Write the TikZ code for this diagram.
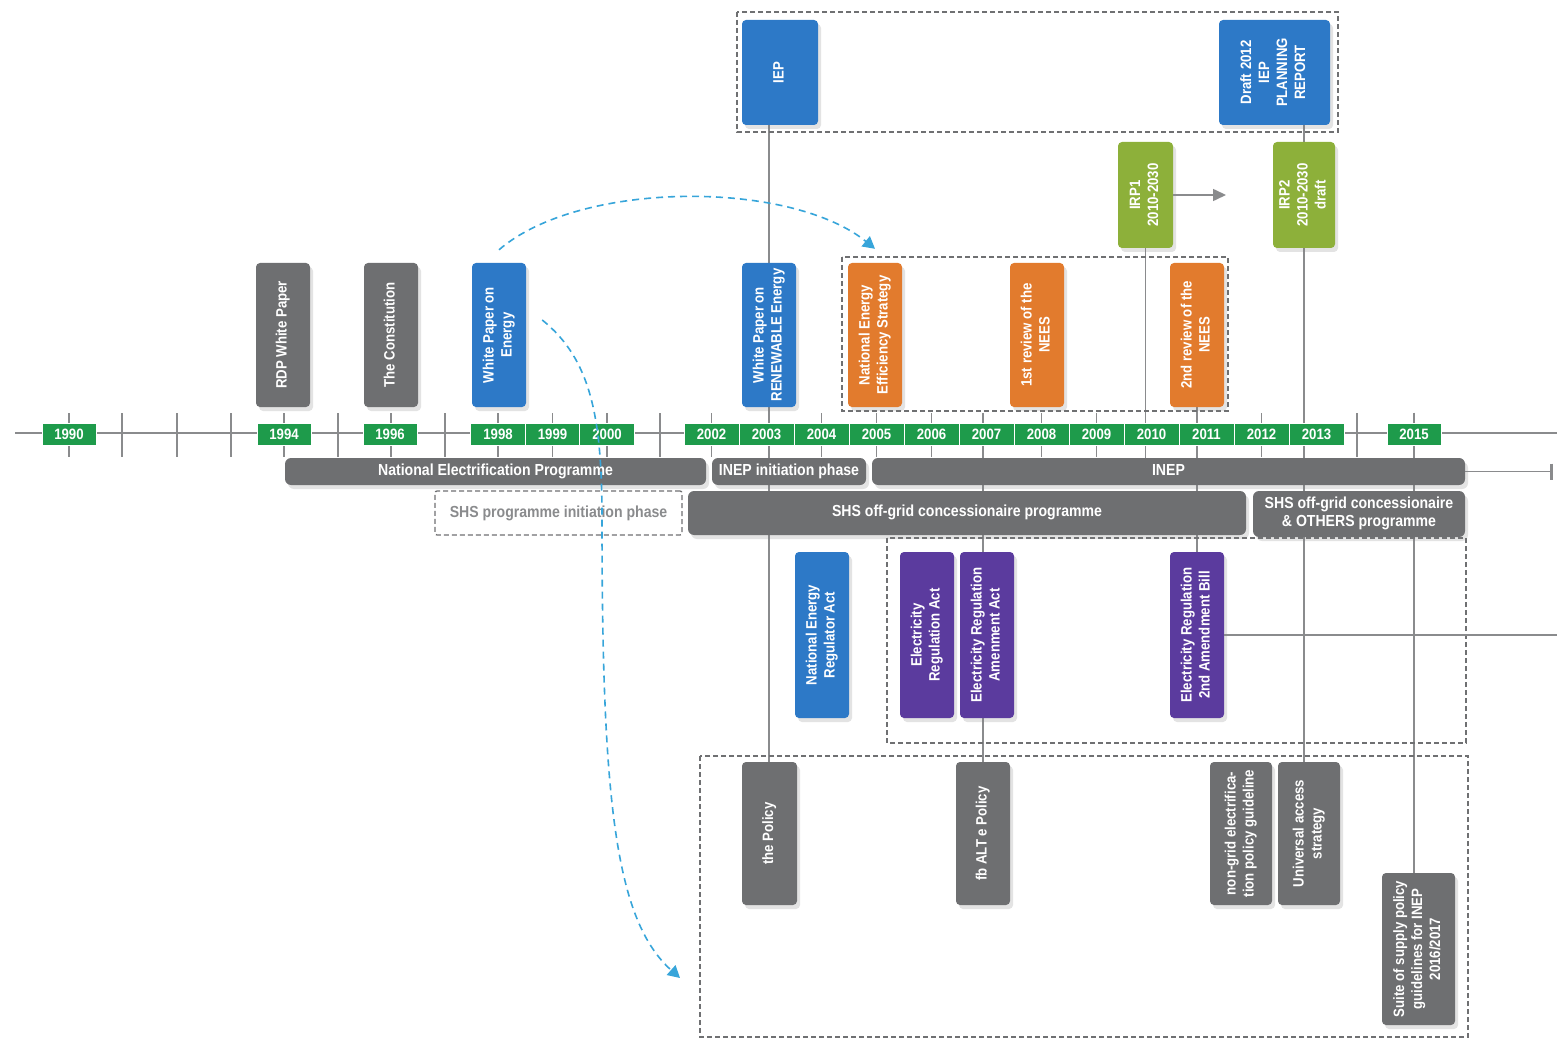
\documentclass[tikz,border=0pt]{standalone}
\usepackage{fontspec}
\setmainfont{Liberation Sans}[FakeStretch=0.88]
\usepackage{graphicx}
\usetikzlibrary{arrows.meta,shadows,backgrounds}
\definecolor{cgray}{HTML}{6E6F71}
\definecolor{cblue}{HTML}{2D79C7}
\definecolor{corange}{HTML}{E27B2D}
\definecolor{colive}{HTML}{8DB03A}
\definecolor{cpurple}{HTML}{5B3B9E}
\definecolor{cgreen}{HTML}{1E9B4B}
\definecolor{cline}{HTML}{8A8B8D}
\definecolor{cdash}{HTML}{37A5DA}
\definecolor{cframe}{HTML}{6F7072}
\newcommand\vt[1]{\rotatebox{90}{\begin{tabular}{@{}c@{}}#1\end{tabular}}}
\newcommand\mkbox[7]{\node[vb, fill=#2, minimum width={(#5)-(#3)}, minimum height={(#6)-(#4)}] (#1) at ({((#3)+(#5))/2},{((#4)+(#6))/2}) {\vt{#7}};}
\newcommand\mkbar[6]{\node[barbox, minimum width={(#4)-(#2)}, minimum height={(#5)-(#3)}] (#1) at ({((#2)+(#4))/2},{((#3)+(#5))/2}) {\begin{tabular}{@{}c@{}}#6\end{tabular}};}
\tikzset{
  shad/.style={drop shadow={opacity=0.22, shadow xshift=3pt, shadow yshift=-4pt}},
  vb/.style={rectangle, rounded corners=4pt, inner sep=0pt, text=white, shad,
    font=\fontsize{15}{18}\selectfont\bfseries},
  barbox/.style={rectangle, rounded corners=6pt, inner sep=0pt, fill=cgray, text=white, shad,
    font=\fontsize{16}{18}\selectfont\bfseries},
  yr/.style={rectangle, fill=cgreen, draw=white, line width=0.8pt, text=white, inner sep=0pt,
    minimum height=22pt, font=\fontsize{15}{18}\selectfont\bfseries},
  frame/.style={draw=cframe, dash pattern=on 5pt off 3pt, line width=1.3pt},
  conn/.style={draw=cline, line width=1.5pt},
  tick/.style={draw=cline, line width=1.5pt},
  bluearrow/.style={draw=cdash, line width=1.6pt, dash pattern=on 7pt off 5pt,
    -{Triangle[width=13pt,length=12pt,fill=cdash]}},
}
\begin{document}
\begin{tikzpicture}[x=1pt,y=-1pt]
\useasboundingbox (0,0) rectangle (1557,1040);

% dashed group frames
\draw[frame] (737,12) rectangle (1338,132);
\draw[frame] (842,257) rectangle (1228,411);
\draw[frame] (887,538) rectangle (1466,743);
\draw[frame] (700,756) rectangle (1468,1037);

% year labels
\node[yr, minimum width=54pt] (y1990) at (69,434) {1990};
\node[yr, minimum width=54pt] (y1994) at (284,434) {1994};
\node[yr, minimum width=54pt] (y1996) at (390,434) {1996};
\node[yr, minimum width=54.3pt] (y1998) at (498,434) {1998};
\node[yr, minimum width=54.3pt] (y1999) at (552.5,434) {1999};
\node[yr, minimum width=54.3pt] (y2000) at (607,434) {2000};
\foreach \yy [count=\i from 0] in {2002,...,2013}
  \node[yr, minimum width=55pt] (y\yy) at ({711.5+55*\i},434) {\yy};
\node[yr, minimum width=54pt] (y2015) at (1414,434) {2015};

% top boxes
\mkbox{iep}{cblue}{742}{20}{818}{125}{IEP}
\mkbox{draft}{cblue}{1219}{20}{1330}{125}{Draft 2012\\IEP\\PLANNING\\REPORT}
\mkbox{irp1}{colive}{1118}{142}{1173}{248}{IRP1\\2010-2030}
\mkbox{irp2}{colive}{1273}{142}{1335}{248}{IRP2\\2010-2030\\draft}

% boxes above the timeline
\mkbox{rdp}{cgray}{256}{263}{310}{407}{RDP White Paper}
\mkbox{const}{cgray}{364}{263}{418}{407}{The Constitution}
\mkbox{wpe}{cblue}{472}{263}{526}{407}{White Paper on\\Energy}
\mkbox{wpre}{cblue}{742}{263}{796}{407}{White Paper on\\RENEWABLE Energy}
\mkbox{nees}{corange}{848}{263}{902}{407}{National Energy\\Efficiency Strategy}
\mkbox{rev1}{corange}{1010}{263}{1064}{407}{1st review of the\\NEES}
\mkbox{rev2}{corange}{1170}{263}{1224}{407}{2nd review of the\\NEES}

% programme bars
\mkbar{nep}{285}{458}{706}{485}{National Electrification Programme}
\mkbar{inepi}{712}{458}{866}{485}{INEP initiation phase}
\mkbar{inep}{872}{458}{1465}{485}{INEP}
\node[rectangle, rounded corners=2pt, frame, fill=white, text=cline, inner sep=0pt,
  minimum width=247pt, minimum height=44pt, font=\fontsize{16}{18}\selectfont\bfseries]
  (shsinit) at (558.5,513) {SHS programme initiation phase};
\mkbar{shs}{688}{491}{1246}{535}{SHS off-grid concessionaire programme}
\mkbar{shso}{1253}{491}{1465}{537}{SHS off-grid concessionaire\\\& OTHERS programme}

% acts
\mkbox{nera}{cblue}{795}{552}{849}{718}{National Energy\\Regulator Act}
\mkbox{era}{cpurple}{900}{552}{954}{718}{Electricity\\Regulation Act}
\mkbox{amend1}{cpurple}{960}{552}{1014}{718}{Electricity Regulation\\Amenment Act}
\mkbox{amend2}{cpurple}{1170}{552}{1224}{718}{Electricity Regulation\\2nd Amendment Bill}

% policies
\mkbox{thepolicy}{cgray}{742}{762}{797}{905}{the Policy}
\mkbox{fbalt}{cgray}{956}{762}{1010}{905}{fb ALT e Policy}
\mkbox{nongrid}{cgray}{1210}{762}{1272}{905}{non-grid electrifica-\\tion policy guideline}
\mkbox{univ}{cgray}{1278}{762}{1340}{905}{Universal access\\strategy}
\mkbox{suite}{cgray}{1382}{873}{1455}{1025}{Suite of supply policy\\guidelines for INEP\\2016/2017}

% free ends
\coordinate (tlS) at (15,433);
\coordinate (tlE) at (1557,433);
\coordinate (irpArr) at (1226,195);
\coordinate (inepEnd) at (1553,476);
\coordinate (rEdge) at (1557,635);
\coordinate (a2end) at (680,978);

\begin{pgfonlayer}{background}
  \fill[white] (0,0) rectangle (1557,1040);
  \draw[conn] (tlS) -- (tlE);
  \foreach \tx in {69,122,177,231,284,338,391,445,498,552.5,607,660,711.5,821.5,876.5,931.5,1041.5,1096.5,1261.5,1357}
    \draw[tick] (\tx,413) -- (\tx,457);
  \draw[conn] (wpre.north |- iep.south) -- (wpre.north |- thepolicy.north);
  \draw[conn] (irp2.north |- draft.south) -- (irp2.north);
  \draw[conn] (irp2.south) -- (irp2.south |- univ.north);
  \draw[conn] (irp1.south) -- (irp1.south |- inep.north);
  \draw[conn] (rev2.south) -- (amend2.north);
  \draw[conn] (fbalt.north |- nees.north) ++(0,150) -- (fbalt.north);
  \draw[conn] (y2015.north) ++(0,-10) -- (y2015.south |- suite.north);
\end{pgfonlayer}

\draw[conn, -{Triangle[width=12pt,length=13pt]}] (irp1.east) -- (irp1.east -| irpArr);
\draw[conn, -{Bar[width=16pt,line width=3pt]}] (inep.east) -- (inep.east -| inepEnd);
\draw[conn] (amend2.east) -- (amend2.east -| rEdge);

% blue dashed arrows
\draw[bluearrow] ([yshift=13pt]wpe.north) .. controls (580,180) and (790,180) .. ([yshift=14pt]nees.north);
\draw[bluearrow] ([xshift=16pt,yshift=15pt]wpe.east) .. controls (592,360) and (602,420) .. (602,520)
  .. controls (602,800) and (615,920) .. (a2end);
\end{tikzpicture}
\end{document}
